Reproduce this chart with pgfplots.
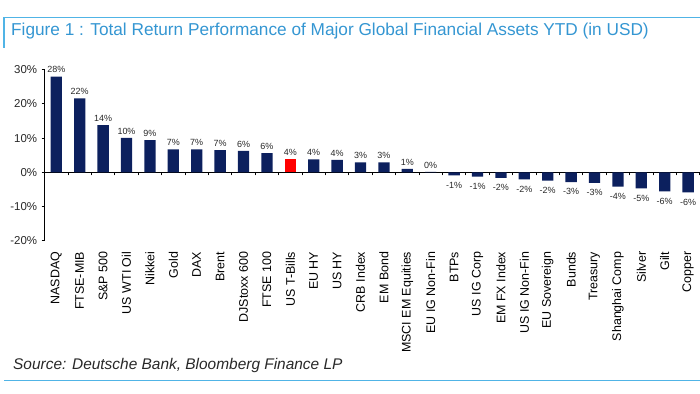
\documentclass[border=0pt]{standalone}
\usepackage{fontspec}
\setmainfont{Liberation Sans}
\usepackage{pgfplots}
\pgfplotsset{compat=1.18}
\definecolor{navy}{RGB}{12,32,94}
\definecolor{titleblue}{RGB}{52,150,210}
\definecolor{lineblue}{RGB}{80,180,230}
\definecolor{txt}{RGB}{40,40,40}
\begin{document}
\begin{tikzpicture}
\path[use as bounding box] (0bp,0bp) rectangle (700bp,394bp);
\draw[lineblue, line width=1.2bp] (4bp,346bp) -- (4bp,376.3bp) -- (700bp,376.3bp);
\draw[lineblue, line width=1.2bp] (4bp,13.3bp) -- (700bp,13.3bp);
\node[anchor=base west, inner sep=0, text=titleblue, font=\fontsize{17.3}{20}\selectfont] at (11bp,358.3bp) {Figure 1 : Total Return Performance of Major Global Financial Assets YTD (in USD)};
\node[anchor=base west, inner sep=0, text=txt, font=\fontsize{15.5}{18}\selectfont\itshape] at (13bp,25bp) {Source: Deutsche Bank, Bloomberg Finance LP};
\begin{axis}[
 at={(56.3bp,221.7bp)}, anchor=origin, scale only axis,
 width=655.2bp, height=171bp,
 xmin=-0.5, xmax=27.5, ymin=-20, ymax=30,
 axis y line*=left, axis x line*=middle,
 axis line style={black, line width=0.8bp},
 tick align=outside,
 ytick={-20,-10,...,30},
 yticklabel={\pgfmathprintnumber{\tick}\%},
 yticklabel style={font=\fontsize{11.5}{13}\selectfont, text=txt, xshift=-1bp},
 xtick={0,...,27},
 xticklabels={NASDAQ,FTSE-MIB,S\&P 500,US WTI Oil,Nikkei,Gold,DAX,Brent,DJStoxx 600,FTSE 100,US T-Bills,EU HY,US HY,CRB Index,EM Bond,MSCI EM Equities,EU IG Non-Fin,BTPs,US IG Corp,EM FX Index,US IG Non-Fin,EU Sovereign,Bunds,Treasury,Shanghai Comp,Silver,Gilt,Copper},
 xticklabel style={yshift=-73bp, rotate=90, anchor=east, font=\fontsize{12.5}{14}\selectfont, text=black},
 minor xtick={-0.5,0.5,...,27.5},
 major x tick style={draw=none},
 minor tick length=3bp, major tick length=3bp,
 tick style={black, line width=0.8bp},
 /pgf/number format/assume math mode=true,
 ybar, bar width=11.3bp,
 nodes near coords={\pgfmathprintnumber[fixed,precision=0]{\pgfplotspointmeta}\%},
 nodes near coords style={font=\fontsize{9}{10}\selectfont, text=txt},
 clip=false,
]
\addplot[fill=navy, draw=none, bar shift=0pt] coordinates {
(0,28.0) (1,21.6) (2,13.8) (3,10.1) (4,9.4) (5,6.7) (6,6.7) (7,6.5) (8,6.3) (9,5.6)
(11,3.8) (12,3.6) (13,2.9) (14,2.9) (15,1.0) (16,0.1)};
\addplot[fill=red, draw=none, bar shift=0pt] coordinates {(10,3.8)};
\addplot[fill=navy, draw=none, bar shift=0pt, nodes near coords style={yshift=-3bp}] coordinates {
(17,-0.9) (18,-1.3) (19,-1.6) (20,-2.1) (21,-2.4) (22,-2.9) (23,-3.1) (24,-4.2)
(25,-4.7) (26,-5.6) (27,-5.9)};
\end{axis}
\end{tikzpicture}
\end{document}
